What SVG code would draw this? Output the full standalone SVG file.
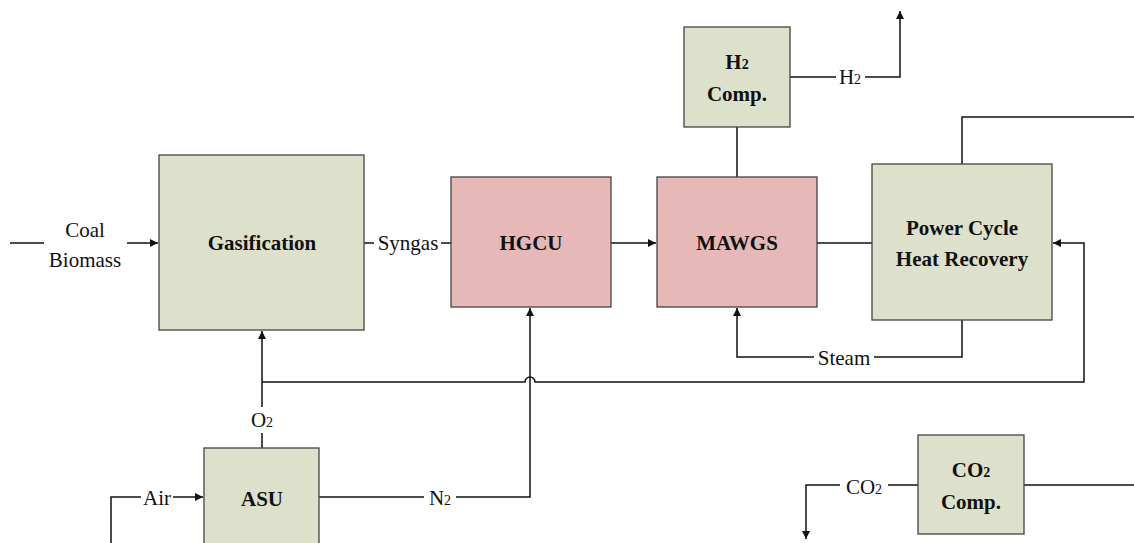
<svg xmlns="http://www.w3.org/2000/svg" width="1134" height="543" viewBox="0 0 1134 543">
<defs>
<style>
.g{fill:#dde1cb;stroke:#444;stroke-width:1.3}
.r{fill:#e6b8b7;stroke:#444;stroke-width:1.3}
.b{font-family:"Liberation Serif",serif;font-weight:bold;font-size:21px;fill:#111;text-anchor:middle}
.l{font-family:"Liberation Serif",serif;font-size:21px;fill:#111;text-anchor:middle}
.c{fill:none;stroke:#111;stroke-width:1.5}
</style>
<marker id="a" viewBox="0 0 10 10" refX="10" refY="5" markerWidth="8" markerHeight="8" markerUnits="userSpaceOnUse" orient="auto"><path d="M0,0L10,5L0,10z" fill="#111"/></marker>
</defs>
<rect width="1134" height="543" fill="#fff"/>
<g id="connectors">
<path class="c" d="M10,243H44"/>
<path class="c" d="M127,243H158" marker-end="url(#a)"/>
<path class="c" d="M364,243H374M441,243H451"/>
<path class="c" d="M611,243H656" marker-end="url(#a)"/>
<path class="c" d="M817,243H872"/>
<path class="c" d="M737,177V127"/>
<path class="c" d="M790,77H836M865,77H900V11" marker-end="url(#a)"/>
<path class="c" d="M962,164V117H1134"/>
<path class="c" d="M962,320V357H874M814,357H737V308" marker-end="url(#a)"/>
<path class="c" d="M262,448V433M262,407V331" marker-end="url(#a)"/>
<path class="c" d="M262,382H525A5,5 0 0 1 535,382H1084V243H1053" marker-end="url(#a)"/>
<path class="c" d="M319,497H424M456,497H530V308" marker-end="url(#a)"/>
<path class="c" d="M111,543V497H141M173,497H203" marker-end="url(#a)"/>
<path class="c" d="M918,485H888M840,485H806V539" marker-end="url(#a)"/>
<path class="c" d="M1024,485H1134"/>
</g>
<g id="gasification"><rect class="g" x="159" y="155" width="205" height="175"/><text class="b" x="262" y="250">Gasification</text></g>
<g id="hgcu"><rect class="r" x="451" y="177" width="160" height="130"/><text class="b" x="531" y="250">HGCU</text></g>
<g id="mawgs"><rect class="r" x="657" y="177" width="160" height="130"/><text class="b" x="737" y="250">MAWGS</text></g>
<g id="power"><rect class="g" x="872" y="164" width="180" height="156"/><text class="b" x="962" y="235">Power Cycle</text><text class="b" x="962" y="266">Heat Recovery</text></g>
<g id="h2comp"><rect class="g" x="684" y="27" width="106" height="100"/><text class="b" x="737" y="69">H<tspan font-size="14">2</tspan></text><text class="b" x="737" y="101">Comp.</text></g>
<g id="asu"><rect class="g" x="204" y="448" width="115" height="100"/><text class="b" x="262" y="506">ASU</text></g>
<g id="co2comp"><rect class="g" x="918" y="435" width="106" height="99"/><text class="b" x="971" y="477">CO<tspan font-size="14">2</tspan></text><text class="b" x="971" y="509">Comp.</text></g>
<g id="labels">
<text class="l" x="85" y="237">Coal</text>
<text class="l" x="85" y="267">Biomass</text>
<text class="l" x="408" y="250">Syngas</text>
<text class="l" x="850" y="84">H<tspan font-size="14">2</tspan></text>
<text class="l" x="844" y="365">Steam</text>
<text class="l" x="262" y="427">O<tspan font-size="14">2</tspan></text>
<text class="l" x="440" y="505">N<tspan font-size="14">2</tspan></text>
<text class="l" x="157" y="505">Air</text>
<text class="l" x="864" y="494">CO<tspan font-size="14">2</tspan></text>
</g>
</svg>
